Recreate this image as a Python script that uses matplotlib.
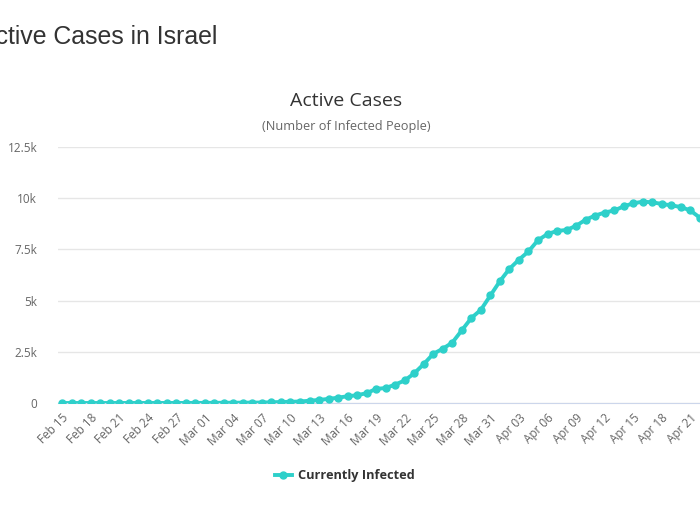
import numpy as np
import pandas as pd
import matplotlib
matplotlib.use("Agg")
import matplotlib.pyplot as plt

# daily active cases, Feb 15 .. Apr 22
start_date = "2020-02-15"
active = [0, 0, 0, 0, 0, 0, 1, 1, 1, 1, 2, 2, 3, 3, 6,            # Feb 15-29
          6, 9, 11, 14, 16, 19, 23, 36, 48, 60, 73, 110, 150, 200, 260,
          330, 380, 480, 690, 730, 900, 1100, 1450, 1900, 2400, 2650,
          2950, 3550, 4150, 4550, 5250,                              # Mar
          5950, 6550, 7000, 7400, 7950, 8250, 8400, 8450, 8650, 8950,
          9150, 9300, 9400, 9600, 9750, 9830, 9800, 9720, 9650, 9570,
          9400, 9050]                                                # Apr 1-22
y_ticks = [0, 2500, 5000, 7500, 10000, 12500]
y_tick_labels = ["0", "2.5k", "5k", "7.5k", "10k", "12.5k"]
tick_step = 3

dates = pd.date_range(start_date, periods=len(active), freq="D")
days = np.arange(len(active))

color = "#2ed0ca"
plt.rcParams['font.family'] = ['Open Sans', 'DejaVu Sans']

fig = plt.figure(figsize=(7, 5.25), dpi=100)
# plot area runs off the right edge of the picture (cropped screenshot)
ax = fig.add_axes([58 / 700, 1 - 403 / 525, 680 / 700, 256 / 525])

ax.plot(days, active, color=color, lw=2.8, marker="o", ms=5.0,
        mec=color, mfc=color, label="Currently Infected", zorder=3)

ax.set_xlim(-0.42, -0.42 + 680 / 9.52)
ax.set_ylim(0, 12500)
ax.set_yticks(y_ticks)
ax.set_yticklabels(y_tick_labels)
ax.grid(axis="y", color="#e6e6e6", lw=1)
ax.set_axisbelow(True)

tick_pos = days[::tick_step]
ax.set_xticks(tick_pos)
ax.set_xticklabels([d.strftime("%b %d") for d in dates[::tick_step]],
                   rotation=45, ha="right", va="top", rotation_mode="anchor")

for s in ["top", "right", "left"]:
    ax.spines[s].set_visible(False)
ax.spines["bottom"].set_color("#ccd6eb")
ax.tick_params(axis="both", length=0, labelsize=8.5, colors="#666666")
ax.tick_params(axis="y", pad=15)
ax.tick_params(axis="x", pad=6)

# page title, its first letter is cut by the screenshot edge as in the source
fig.text(217 / 700, 1 - 37 / 525, "Active Cases in Israel", ha="right",
         va="center", fontsize=17.9, color="#333333", family="Liberation Sans")
fig.text(346 / 700, 1 - 101 / 525, "Active Cases", ha="center",
         va="center", fontsize=14, color="#333333")
fig.text(346 / 700, 1 - 127 / 525, "(Number of Infected People)",
         ha="center", va="center", fontsize=9.2, color="#666666")

leg = fig.legend(loc="center", bbox_to_anchor=(345 / 700, 1 - 476 / 525),
                 frameon=False, prop={"weight": "bold", "size": 9.2},
                 handlelength=1.3, handletextpad=0.5, markerscale=1.0)
for t in leg.get_texts():
    t.set_color("#333333")

fig.savefig("out.png", dpi=100)
